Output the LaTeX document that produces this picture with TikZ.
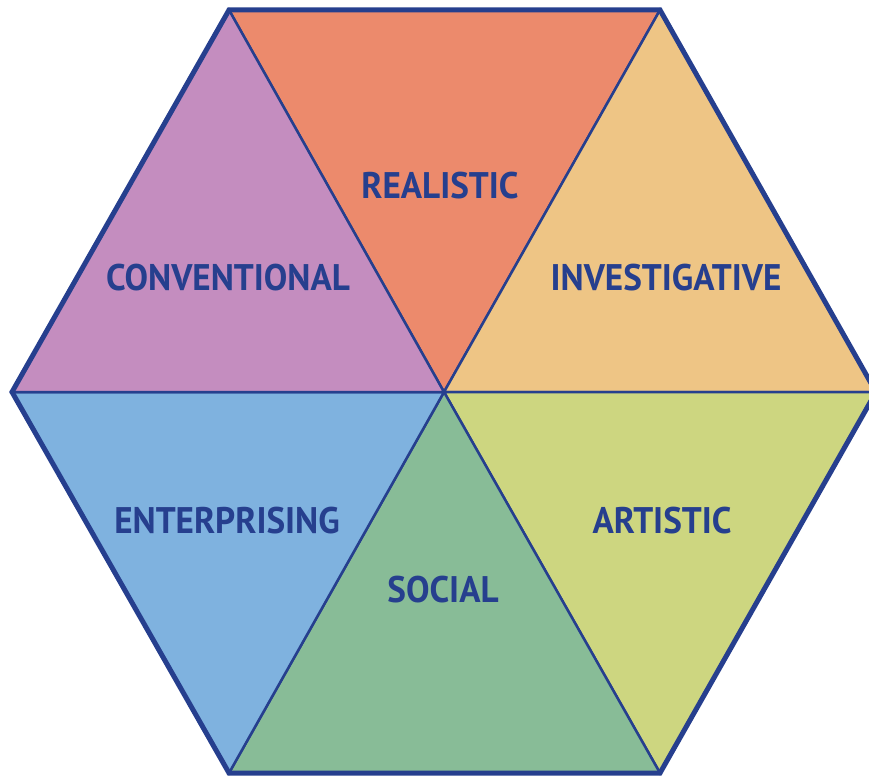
\documentclass[tikz,border=0pt]{standalone}
\usepackage{fontspec}
\setsansfont{PT Sans}
\usetikzlibrary{calc}
\definecolor{hexblue}{HTML}{263F8E}
\definecolor{realred}{HTML}{EC8A6C}
\definecolor{invtan}{HTML}{EEC585}
\definecolor{artgreen}{HTML}{CDD680}
\definecolor{socgreen}{HTML}{88BC97}
\definecolor{entblue}{HTML}{7FB2DF}
\definecolor{convpurple}{HTML}{C48DBF}

\begin{document}
\begin{tikzpicture}[x=1pt, y=-1pt, every node/.style={font=\sffamily\bfseries\fontsize{37}{37}\selectfont, text=hexblue, xscale=0.95}]
      \useasboundingbox (0,0) rectangle (869,776);
      \coordinate (center) at (444,392);

      % corners of the hexagon
      \coordinate (TL) at (229,10);
      \coordinate (TR) at (660,10);
      \coordinate (R) at (876,392);
      \coordinate (BR) at (660,773);
      \coordinate (BL) at (229,773);
      \coordinate (L) at (12,392);

      \draw [fill=realred, draw=hexblue, line width=2.5pt] (center) -- (TL) -- (TR) -- cycle;
      \draw [fill=invtan, draw=hexblue, line width=2.5pt] (center) -- (TR) -- (R) -- cycle;
      \draw [fill=artgreen, draw=hexblue, line width=2.5pt] (center) -- (R) -- (BR) -- cycle;
      \draw [fill=socgreen, draw=hexblue, line width=2.5pt] (center) -- (BR) -- (BL) -- cycle;
      \draw [fill=entblue, draw=hexblue, line width=2.5pt] (center) -- (BL) -- (L) -- cycle;
      \draw [fill=convpurple, draw=hexblue, line width=2.5pt] (center) -- (L) -- (TL) -- cycle;

      \draw [hexblue, line width=5pt] (TL) -- (TR) -- (R) -- (BR) -- (BL) -- (L) -- cycle;

      \node [name=real] at (440,186) {REALISTIC};
      \node [name=inv] at (666,278) {INVESTIGATIVE};
      \node [name=art] at (662,521) {ARTISTIC};
      \node [name=soc] at (443,590) {SOCIAL};
      \node [name=ent] at (227,521) {ENTERPRISING};
      \node [name=conv] at (228,278) {CONVENTIONAL};
    \end{tikzpicture}
\end{document}
